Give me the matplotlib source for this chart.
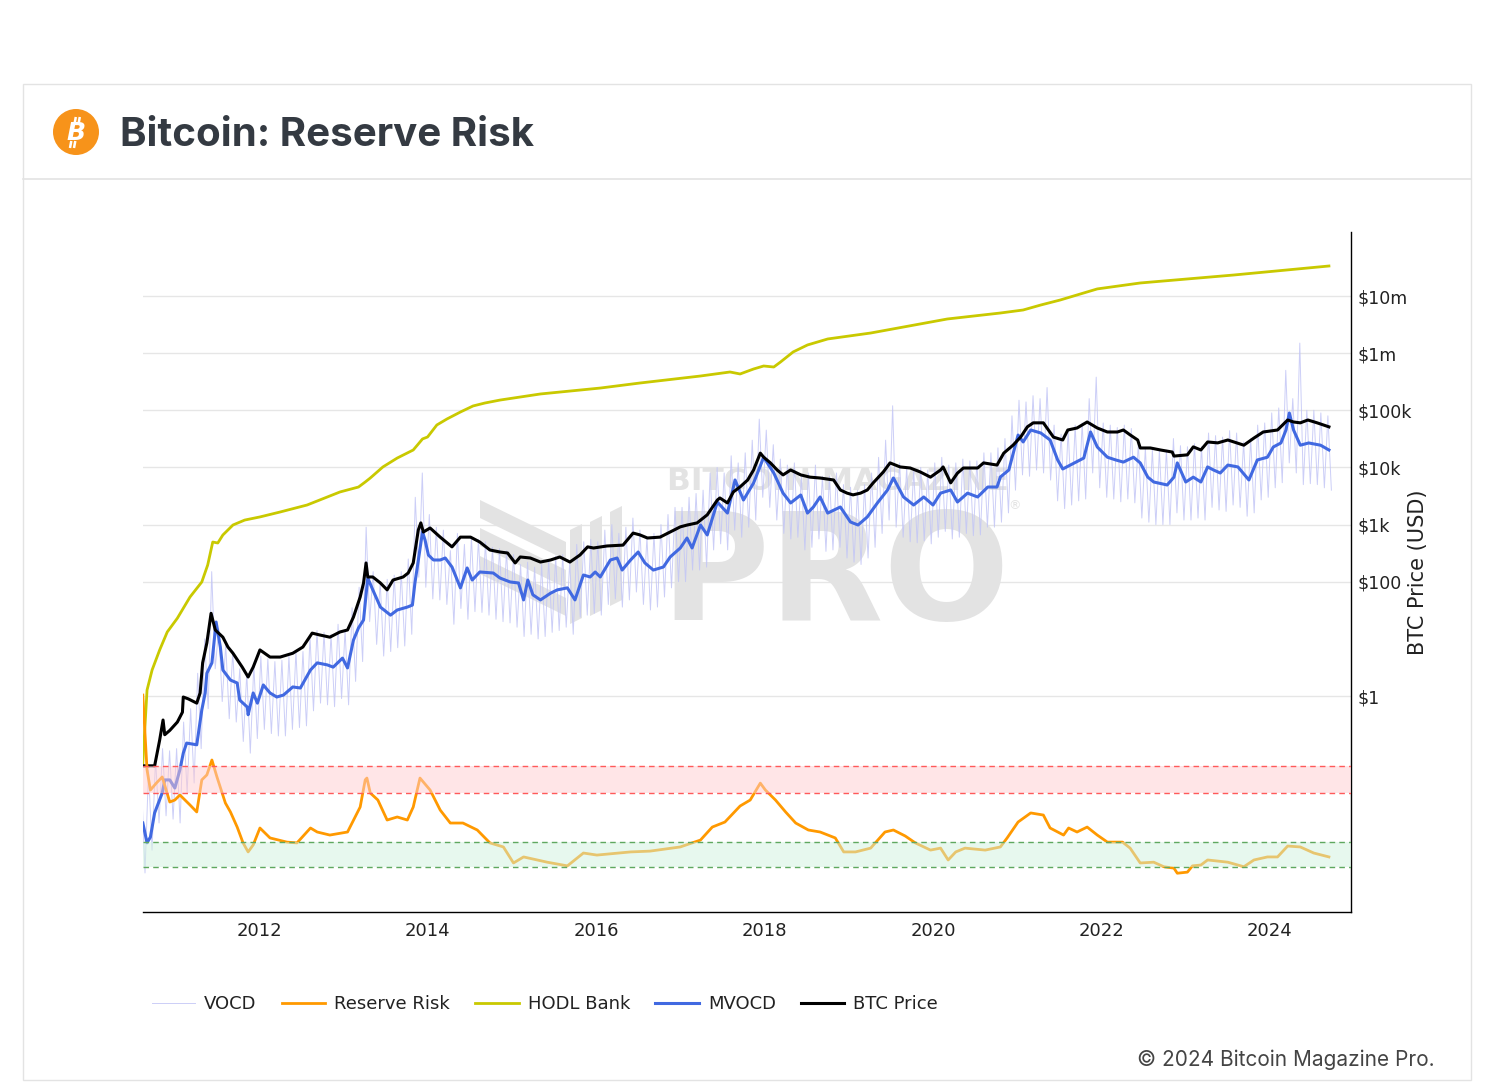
import numpy as np
import matplotlib
matplotlib.use("Agg")
import matplotlib.pyplot as plt
from matplotlib.patches import Rectangle, Ellipse, Polygon
from matplotlib.lines import Line2D
from matplotlib.ticker import NullLocator

W, H = 1495, 1087

# ---- data ----
btc_year = [2010.62, 2010.76, 2010.82, 2010.86, 2010.88, 2010.94, 2011.03, 2011.09, 2011.10, 2011.16,
            2011.26, 2011.30, 2011.33, 2011.38, 2011.43, 2011.48, 2011.57, 2011.63, 2011.69, 2011.80,
            2011.87, 2011.93, 2012.01, 2012.13, 2012.25, 2012.40, 2012.52, 2012.63, 2012.72, 2012.84,
            2012.96, 2013.05, 2013.12, 2013.20, 2013.24, 2013.27, 2013.29, 2013.35, 2013.44, 2013.52,
            2013.59, 2013.71, 2013.77, 2013.83, 2013.89, 2013.92, 2013.95, 2014.03, 2014.15, 2014.29,
            2014.39, 2014.51, 2014.62, 2014.74, 2014.86, 2014.95, 2015.04, 2015.10, 2015.22, 2015.34,
            2015.46, 2015.57, 2015.69, 2015.81, 2015.90, 2015.97, 2016.13, 2016.32, 2016.44, 2016.52,
            2016.61, 2016.76, 2016.88, 2017.00, 2017.08, 2017.20, 2017.32, 2017.44, 2017.47, 2017.56,
            2017.63, 2017.71, 2017.80, 2017.87, 2017.95, 2017.99, 2018.07, 2018.15, 2018.22, 2018.31,
            2018.43, 2018.54, 2018.66, 2018.82, 2018.90, 2018.98, 2019.05, 2019.14, 2019.22, 2019.29,
            2019.41, 2019.49, 2019.61, 2019.73, 2019.85, 2019.97, 2020.09, 2020.12, 2020.21, 2020.29,
            2020.36, 2020.53, 2020.60, 2020.76, 2020.84, 2020.95, 2021.04, 2021.12, 2021.19, 2021.31,
            2021.37, 2021.43, 2021.54, 2021.60, 2021.71, 2021.83, 2021.95, 2022.07, 2022.19, 2022.26,
            2022.34, 2022.43, 2022.46, 2022.58, 2022.70, 2022.84, 2022.86, 2023.02, 2023.09, 2023.18,
            2023.26, 2023.38, 2023.50, 2023.69, 2023.81, 2023.92, 2024.09, 2024.21, 2024.28, 2024.36,
            2024.45, 2024.56, 2024.70]
btc_price = [0.06, 0.06, 0.17, 0.38, 0.21, 0.25, 0.35, 0.52, 0.96, 0.89,
             0.75, 1.13, 3.8, 8.5, 28, 14.3, 10.7, 7.2, 5.6, 3.2,
             2.15, 3.2, 6.4, 4.8, 4.8, 5.6, 7.2, 12.6, 11.7, 10.7,
             13.2, 14.3, 24, 54, 95, 213, 121, 121, 95, 72,
             107, 121, 142, 213, 804, 1070, 741, 871, 603, 407,
             603, 603, 495, 359, 331, 318, 213, 271, 260, 221,
             240, 271, 221, 294, 407, 389, 422, 437, 710, 660,
             582, 603, 741, 912, 980, 1070, 1480, 2690, 2920, 2390,
             3720, 4570, 6030, 9020, 17800, 15100, 12000, 9020, 7400, 9020,
             7400, 6760, 6530, 6030, 4030, 3550, 3310, 3550, 4030, 5370,
             8320, 12000, 10200, 9770, 8320, 6760, 9020, 10200, 5370, 7940,
             9770, 9770, 12000, 11000, 17800, 24500, 33900, 51300, 60300, 60300,
             45200, 33900, 30200, 45200, 49000, 62400, 49000, 41700, 41700, 45200,
             37100, 30200, 21900, 21900, 20200, 18600, 15800, 16600, 22900, 20200,
             27900, 26900, 30200, 24500, 32700, 41700, 45200, 67600, 62400, 60300,
             67600, 60300, 51300]

mvocd_year = [2010.62, 2010.67, 2010.71, 2010.76, 2010.85, 2010.88, 2010.94, 2011.00, 2011.06, 2011.10,
              2011.14, 2011.26, 2011.28, 2011.32, 2011.36, 2011.38, 2011.44, 2011.49, 2011.54, 2011.57,
              2011.66, 2011.74, 2011.77, 2011.86, 2011.87, 2011.93, 2011.98, 2012.05, 2012.13, 2012.21,
              2012.29, 2012.40, 2012.49, 2012.61, 2012.69, 2012.81, 2012.88, 2012.99, 2013.05, 2013.12,
              2013.18, 2013.24, 2013.29, 2013.35, 2013.44, 2013.56, 2013.64, 2013.76, 2013.82, 2013.85,
              2013.94, 2013.97, 2014.01, 2014.07, 2014.15, 2014.21, 2014.29, 2014.39, 2014.47, 2014.53,
              2014.62, 2014.78, 2014.86, 2014.98, 2015.08, 2015.14, 2015.19, 2015.25, 2015.34, 2015.46,
              2015.54, 2015.66, 2015.75, 2015.85, 2015.93, 2015.99, 2016.05, 2016.17, 2016.25, 2016.31,
              2016.41, 2016.50, 2016.58, 2016.68, 2016.80, 2016.88, 2017.00, 2017.08, 2017.14, 2017.24,
              2017.32, 2017.44, 2017.56, 2017.65, 2017.75, 2017.87, 2017.99, 2018.11, 2018.22, 2018.31,
              2018.43, 2018.51, 2018.58, 2018.66, 2018.75, 2018.90, 2019.02, 2019.11, 2019.22, 2019.34,
              2019.46, 2019.53, 2019.65, 2019.77, 2019.89, 2020.00, 2020.09, 2020.21, 2020.29, 2020.41,
              2020.53, 2020.65, 2020.76, 2020.80, 2020.90, 2021.01, 2021.07, 2021.16, 2021.28, 2021.39,
              2021.48, 2021.54, 2021.63, 2021.79, 2021.87, 2021.95, 2022.07, 2022.17, 2022.26, 2022.38,
              2022.46, 2022.55, 2022.62, 2022.78, 2022.86, 2022.90, 2023.00, 2023.09, 2023.18, 2023.26,
              2023.33, 2023.41, 2023.50, 2023.62, 2023.75, 2023.85, 2023.97, 2024.04, 2024.13, 2024.19,
              2024.23, 2024.28, 2024.36, 2024.46, 2024.60, 2024.70]
mvocd = [0.006, 0.0027, 0.0034, 0.009, 0.02, 0.034, 0.034, 0.0245, 0.051, 0.1,
         0.15, 0.14, 0.225, 0.57, 1.13, 2.5, 3.8, 19.7, 7.2, 2.85,
         1.9, 1.69, 0.85, 0.64, 0.47, 1.13, 0.75, 1.56, 1.13, 0.96,
         1.04, 1.44, 1.38, 2.85, 3.8, 3.5, 3.2, 4.6, 3.1, 9.5,
         15.5, 21.4, 116, 72, 36, 26, 32, 36, 39, 95,
         741, 537, 293, 240, 240, 260, 181, 78, 174, 107,
         148, 142, 116, 99, 95, 48, 107, 59, 48, 63,
         72, 78, 48, 131, 121, 148, 121, 240, 260, 160,
         240, 331, 213, 160, 181, 271, 389, 582, 389, 983,
         657, 2480, 1590, 6030, 2690, 5340, 15100, 7990, 3550, 2390,
         3290, 1590, 2030, 3040, 1590, 2030, 1110, 983, 1360, 2390,
         4030, 6530, 3040, 2200, 3040, 2200, 3550, 4030, 2480, 3550,
         3040, 4540, 4540, 6800, 9020, 36900, 27900, 45200, 40000, 30200,
         13500, 9390, 11000, 14600, 41700, 22800, 15100, 13500, 12400, 15100,
         12000, 6760, 5560, 4930, 6760, 12000, 5560, 6760, 5560, 10200,
         9020, 7990, 11000, 10200, 6030, 13500, 15100, 22800, 26800, 45200,
         89700, 45200, 24500, 26800, 24500, 20200]

hodl_year = [2010.62, 2010.67, 2010.73, 2010.82, 2010.91, 2011.03, 2011.18, 2011.32, 2011.39, 2011.45,
             2011.51, 2011.57, 2011.69, 2011.83, 2012.01, 2012.25, 2012.57, 2012.96, 2013.18, 2013.26,
             2013.32, 2013.47, 2013.64, 2013.83, 2013.89, 2013.94, 2014.00, 2014.11, 2014.23, 2014.39,
             2014.54, 2014.68, 2014.86, 2015.34, 2016.05, 2016.52, 2017.24, 2017.59, 2017.71, 2017.87,
             2017.99, 2018.11, 2018.19, 2018.34, 2018.51, 2018.75, 2019.26, 2020.17, 2020.80, 2021.07,
             2021.28, 2021.51, 2021.95, 2022.46, 2023.57, 2024.70]
hodl_bank = [0.067, 1.27, 2.85, 6.4, 13.2, 23, 54, 99, 196, 495,
             476, 657, 983, 1200, 1360, 1660, 2200, 3720, 4540, 5560,
             6530, 10200, 14600, 20200, 25700, 31500, 34100, 55300, 70400, 93300,
             119000, 134000, 151000, 193000, 245000, 300000, 398000, 468000, 432000, 528000,
             596000, 572000, 700000, 1.05e6, 1.39e6, 1.77e6, 2.25e6, 3.96e6, 5.04e6, 5.69e6,
             6.96e6, 8.51e6, 13.3e6, 16.9e6, 23.3e6, 33.5e6]

rr_year = [2010.62, 2010.65, 2010.67, 2010.71, 2010.78, 2010.85, 2010.94, 2011.00, 2011.06, 2011.18,
           2011.26, 2011.32, 2011.38, 2011.44, 2011.50, 2011.60, 2011.66, 2011.74, 2011.81, 2011.87,
           2011.93, 2012.01, 2012.13, 2012.33, 2012.45, 2012.61, 2012.69, 2012.84, 2013.05, 2013.20,
           2013.26, 2013.28, 2013.32, 2013.41, 2013.52, 2013.64, 2013.76, 2013.83, 2013.91, 2014.03,
           2014.15, 2014.27, 2014.42, 2014.59, 2014.74, 2014.90, 2015.02, 2015.14, 2015.42, 2015.66,
           2015.85, 2016.01, 2016.41, 2016.64, 2017.00, 2017.24, 2017.38, 2017.53, 2017.71, 2017.83,
           2017.95, 2018.01, 2018.13, 2018.25, 2018.37, 2018.52, 2018.66, 2018.84, 2018.94, 2019.08,
           2019.26, 2019.43, 2019.53, 2019.67, 2019.79, 2019.97, 2020.09, 2020.18, 2020.27, 2020.38,
           2020.62, 2020.80, 2020.88, 2021.01, 2021.16, 2021.31, 2021.39, 2021.55, 2021.61, 2021.71,
           2021.83, 2021.95, 2022.07, 2022.25, 2022.34, 2022.46, 2022.62, 2022.74, 2022.86, 2022.90,
           2023.02, 2023.08, 2023.18, 2023.26, 2023.50, 2023.69, 2023.81, 2023.97, 2024.09, 2024.21,
           2024.36, 2024.52, 2024.70]
reserve_risk = [0.221, 0.048, 0.0175, 0.00887, 0.0112, 0.0138, 0.00591, 0.00632, 0.0075, 0.00534,
                0.00422, 0.0125, 0.0148, 0.0245, 0.0138, 0.00571, 0.00422, 0.00253, 0.00148, 0.00109,
                0.00138, 0.00245, 0.00175, 0.00152, 0.00148, 0.00245, 0.00214, 0.00193, 0.00214, 0.00499,
                0.0125, 0.0133, 0.00802, 0.00632, 0.00321, 0.00356, 0.00321, 0.00499, 0.0133, 0.00887,
                0.0045, 0.0029, 0.0029, 0.00229, 0.00148, 0.00129, 0.00075, 0.00092, 0.00077, 0.00068,
                0.00105, 0.00098, 0.00109, 0.00112, 0.00129, 0.00163, 0.00253, 0.003, 0.00516, 0.00632,
                0.0112, 0.00887, 0.00632, 0.00422, 0.0029, 0.00229, 0.00214, 0.00175, 0.00109, 0.00109,
                0.00124, 0.00214, 0.00229, 0.00187, 0.00148, 0.00116, 0.00124, 0.00083, 0.00109, 0.00124,
                0.00116, 0.00129, 0.00175, 0.003, 0.00408, 0.0038, 0.00245, 0.00193, 0.00245, 0.00214,
                0.00253, 0.00193, 0.00152, 0.00152, 0.00124, 0.00075, 0.00077, 0.00066, 0.00063, 0.00053,
                0.00055, 0.00068, 0.0007, 0.00083, 0.00077, 0.00066, 0.00083, 0.00092, 0.00092, 0.00133,
                0.00129, 0.00105, 0.00092]

# half-monthly VOCD readings (spiky series); 2010 starts in August, 2024 ends in September
vocd_by_year = {
    2010: [0.03, 0.0008, 0.05, 0.002, 0.08, 0.006, 0.12, 0.008, 0.11, 0.007],
    2011: [0.12, 0.006, 0.35, 0.02, 0.6, 0.03, 2.5, 0.12, 10, 0.6, 150, 3,
           15, 0.8, 8, 0.4, 6, 0.35, 3, 0.16, 2.5, 0.1, 3.5, 0.18],
    2012: [5, 0.26, 4.5, 0.22, 4, 0.2, 4.2, 0.2, 5, 0.26, 6, 0.28,
           6, 0.3, 11, 0.55, 14, 0.75, 13, 0.7, 12, 0.65, 18, 0.9],
    2013: [14, 0.7, 35, 1.8, 80, 4, 900, 20, 150, 8, 100, 5,
           110, 6, 130, 7, 150, 7.5, 250, 12, 3000, 120, 8000, 80],
    2014: [1500, 50, 900, 48, 800, 40, 350, 18, 700, 34, 450, 22,
           600, 30, 550, 29, 500, 26, 400, 22, 380, 20, 350, 19],
    2015: [300, 16, 200, 11, 220, 12, 180, 10, 200, 11, 240, 13,
           280, 14, 300, 16, 220, 12, 450, 24, 500, 26, 550, 28],
    2016: [500, 26, 800, 40, 1000, 50, 700, 36, 900, 48, 1300, 66,
           800, 40, 600, 32, 700, 36, 1000, 54, 1500, 78, 2000, 100],
    2017: [2000, 100, 3000, 160, 3500, 160, 4000, 180, 8000, 360, 10000, 460,
           8000, 360, 16000, 800, 12000, 600, 18000, 900, 30000, 1200, 70000, 3000],
    2018: [45000, 2000, 25000, 1200, 14000, 700, 11000, 560, 12000, 600, 7000, 360,
           8000, 400, 11000, 560, 7000, 340, 7000, 360, 8000, 400, 5000, 260],
    2019: [4500, 220, 4000, 200, 5000, 260, 8000, 400, 15000, 700, 30000, 1200,
           120000, 900, 12000, 600, 10000, 500, 9000, 480, 10000, 520, 9000, 460],
    2020: [12000, 600, 15000, 760, 11000, 560, 12000, 600, 14000, 700, 13000, 640,
           13000, 660, 18000, 900, 18000, 900, 22000, 1100, 32000, 1600, 80000, 4000],
    2021: [150000, 7400, 140000, 7000, 180000, 9000, 160000, 8000, 250000, 6000, 55000, 2600,
           38000, 1900, 45000, 2200, 55000, 2600, 60000, 2800, 160000, 8000, 380000, 4400],
    2022: [60000, 3000, 55000, 2800, 50000, 2500, 55000, 2800, 48000, 2400, 26000, 1300,
           22000, 1100, 20000, 1000, 20000, 1000, 20000, 1000, 32000, 1600, 24000, 1200],
    2023: [23000, 1200, 26000, 1300, 23000, 1200, 40000, 2000, 36000, 1800, 34000, 1700,
           44000, 2200, 40000, 2000, 28000, 1400, 32000, 1600, 55000, 2700, 60000, 3000],
    2024: [90000, 4400, 110000, 5400, 500000, 12000, 160000, 8000, 1500000, 5000, 100000, 5200,
           100000, 5000, 90000, 4400, 80000, 4000],
}

price_ticks = [1, 100, 1e3, 1e4, 1e5, 1e6, 1e7]
price_labels = ["$1", "$100", "$1k", "$10k", "$100k", "$1m", "$10m"]
year_ticks = [2012, 2014, 2016, 2018, 2020, 2022, 2024]

red_zone = (0.008, 0.02)
green_zone = (0.00066, 0.0015)

vocd_year, vocd = [], []
for yr, vals in vocd_by_year.items():
    first = 14 if yr == 2010 else 0
    for i, v in enumerate(vals):
        vocd_year.append(yr + (first + i + 0.5) / 24)
        vocd.append(v)


def fx(px):
    return px / W


def fy(py):
    return 1 - py / H


fig = plt.figure(figsize=(W / 100, H / 100), dpi=100)
fig.patch.set_facecolor("white")

# card frame + header
fig.add_artist(Rectangle((fx(23), fy(1080)), fx(1471) - fx(23), fy(84) - fy(1080),
                         transform=fig.transFigure, fill=False, ec="#e3e3e3", lw=1))
fig.add_artist(Line2D([fx(23), fx(1471)], [fy(179), fy(179)], transform=fig.transFigure,
                      color="#e3e3e3", lw=1.2))
fig.add_artist(Ellipse((fx(76), fy(132)), 46 / W, 46 / H, transform=fig.transFigure,
                       color="#f7931a", lw=0))
fig.text(fx(76), fy(133), "B", ha="center", va="center", color="white", fontsize=18,
         fontweight="bold", fontstyle="italic", family="DejaVu Sans")
# the two small strokes of the bitcoin sign
for dx in (0, 4):
    fig.add_artist(Line2D([fx(74.5 + dx), fx(75.8 + dx)], [fy(124), fy(117)], transform=fig.transFigure,
                          color="white", lw=1.8, solid_capstyle="butt"))
    fig.add_artist(Line2D([fx(70 + dx), fx(71.3 + dx)], [fy(148), fy(141)], transform=fig.transFigure,
                          color="white", lw=1.8, solid_capstyle="butt"))
fig.text(fx(120), fy(135), "Bitcoin: Reserve Risk", ha="left", va="center", fontsize=29,
         fontweight="bold", family="Inter", color="#343a42")

ax = fig.add_axes([fx(143), fy(912), fx(1351) - fx(143), fy(232) - fy(912)])
ax.set_facecolor("none")

# watermark
wm = "#e3e3e3"
ax.text(fx(667), fy(482), "BITCOIN MAGAZINE", transform=fig.transFigure, ha="left", va="center",
        fontsize=22.5, fontweight="bold", color=wm, zorder=0.6)
ax.text(fx(660), fy(620), "PRO", transform=fig.transFigure, ha="left", va="baseline",
        fontsize=107, fontweight="bold", color=wm, zorder=0.6)
ax.text(fx(1014), fy(506), "®", transform=fig.transFigure, ha="center", va="center",
        fontsize=9, color=wm, zorder=0.6)
logo = [
    [(480, 500), (480, 518), (566, 560), (566, 542)],
    [(480, 528), (480, 546), (566, 588), (566, 570)],
    [(480, 556), (480, 574), (566, 616), (566, 598)],
    [(570, 530), (582, 524), (582, 618), (570, 624)],
    [(590, 522), (602, 516), (602, 610), (590, 616)],
    [(610, 512), (622, 506), (622, 600), (610, 606)],
]
for poly in logo:
    ax.add_patch(Polygon([(fx(a), fy(b)) for a, b in poly], closed=True, transform=fig.transFigure,
                         fc=wm, ec="none", zorder=0.6))

vocd_line, = ax.plot(vocd_year, vocd, color="#c3c6f6", lw=0.7, alpha=0.85, zorder=1.5, label="VOCD")
hodl_line, = ax.plot(hodl_year, hodl_bank, color="#c9c900", lw=2, zorder=2, label="HODL Bank")
mvocd_line, = ax.plot(mvocd_year, mvocd, color="#4169e1", lw=2.2, zorder=2.2, label="MVOCD")
btc_line, = ax.plot(btc_year, btc_price, color="black", lw=2.2, zorder=2.4, label="BTC Price")

ax.set_yscale("log")
ax.set_ylim(10 ** -3.78, 10 ** 8.12)
ax.set_xlim(2010.622, 2024.962)
ax.set_yticks(price_ticks)
ax.set_yticklabels(price_labels)
ax.yaxis.set_minor_locator(NullLocator())
ax.set_xticks(year_ticks)
ax.set_xticklabels([str(y) for y in year_ticks])
ax.grid(axis="y", color="#e6e6e6", lw=1)
ax.set_axisbelow(True)
for side in ("top", "left"):
    ax.spines[side].set_visible(False)
for side in ("right", "bottom"):
    ax.spines[side].set_color("black")
    ax.spines[side].set_linewidth(1)

# reserve risk on its own hidden log axis
ax2 = ax.twinx()
ax2.set_yscale("log")
ax2.set_ylim(10 ** -3.846, 10 ** 6.154)
ax2.set_yticks([])
ax2.yaxis.set_minor_locator(NullLocator())
ax2.tick_params(axis="y", which="both", right=False, labelright=False)
for s in ax2.spines.values():
    s.set_visible(False)
rr_line, = ax2.plot(rr_year, reserve_risk, color="#ff9900", lw=2, zorder=2, label="Reserve Risk")
ax2.axhspan(*red_zone, facecolor=(1.0, 0.80, 0.82), alpha=0.5, lw=0, zorder=3)
ax2.axhspan(*green_zone, facecolor=(0.82, 0.95, 0.87), alpha=0.5, lw=0, zorder=3)
for v in red_zone:
    ax2.axhline(v, color="#ff5a5a", lw=1, ls=(0, (4, 3)), zorder=4)
for v in green_zone:
    ax2.axhline(v, color="#5fa85f", lw=1, ls=(0, (4, 3)), zorder=4)
ax2.set_xlim(2010.622, 2024.962)

# twinx moves the price ticks to the left, put them back on the right
ax.yaxis.tick_right()
ax.tick_params(axis="y", which="both", length=0, pad=5, labelsize=12.5, colors="#222222",
               labelright=True, labelleft=False, left=False, right=False)
ax.tick_params(axis="x", length=0, pad=7, labelsize=13, colors="#222222")

fig.text(fx(1418), fy(572), "BTC Price (USD)", rotation=90, ha="center", va="center",
         fontsize=15, color="#222222")

fig.legend([vocd_line, rr_line, hodl_line, mvocd_line, btc_line],
           ["VOCD", "Reserve Risk", "HODL Bank", "MVOCD", "BTC Price"],
           loc="center", bbox_to_anchor=(fx(545), fy(1004)), ncol=5, frameon=False,
           fontsize=13, handlelength=2.4, handletextpad=0.5, columnspacing=1.4,
           labelcolor="#222222")

fig.text(fx(1435), fy(1060), "© 2024 Bitcoin Magazine Pro.", ha="right", va="center",
         fontsize=15, family="Inter", color="#444444")

fig.savefig("out.png", dpi=100, facecolor="white")
